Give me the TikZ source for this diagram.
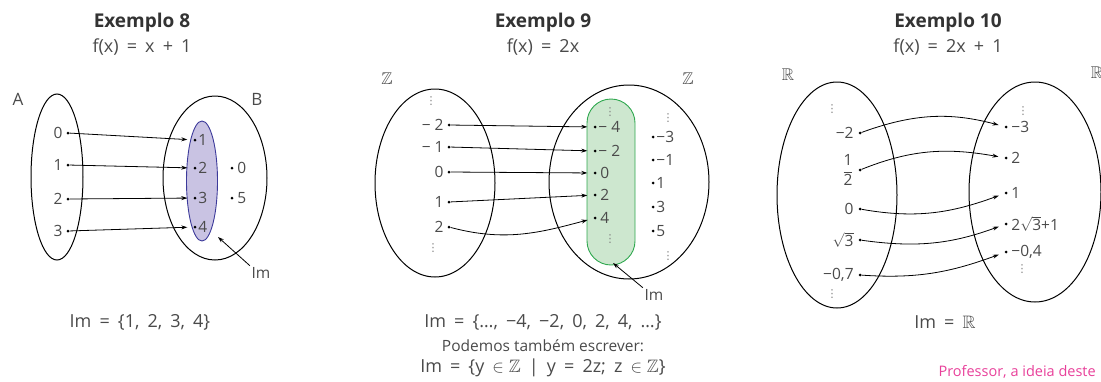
\documentclass[tikz,border=0pt]{standalone}
\usepackage{amsmath,amssymb}
\usepackage{fontspec}
\setmainfont{Open Sans}
\newfontfamily\symfont{DejaVu Sans}
\usetikzlibrary{arrows.meta,positioning}

\definecolor{txt}{HTML}{4A4A4A}
\definecolor{imfill}{HTML}{C9C3E3}
\definecolor{imline}{HTML}{3C3A9A}
\definecolor{imgfill}{HTML}{CDE7CF}
\definecolor{imgline}{HTML}{2FA84F}
\definecolor{nota}{HTML}{E8409A}

\newcommand{\vd}{{\symfont\fontsize{11}{11}\selectfont ⋮}}
\newcommand{\widesp}{\spaceskip=0.45em plus 0.1em\relax}

\tikzset{
  dot/.style={circle,fill=black,inner sep=0pt,minimum size=3pt},
  elem/.style={text=txt,font=\fontsize{15.5}{18}\selectfont,inner sep=1.5pt},
  vdts/.style={text=txt!70,inner sep=0pt},
  title/.style={text=black!80,font=\fontsize{19}{21}\selectfont\bfseries},
  formula/.style={text=txt,font=\fontsize{18}{20}\selectfont\widesp},
  plain/.style={text=txt,font=\fontsize{15.5}{18}\selectfont},
  setname/.style={text=txt,font=\fontsize{17}{19}\selectfont},
  map/.style={-{Stealth[length=6pt,width=4pt]},shorten >=6pt,line width=0.8pt},
  pointer/.style={-{Stealth[length=6pt,width=4pt]},line width=0.8pt},
  setline/.style={line width=1pt}
}

\begin{document}
\begin{tikzpicture}[x=1pt,y=-1pt]
  \useasboundingbox (0,0) rectangle (1101,381);

  % Exemplo 8
  \node[title] (t8) at (142,23) {Exemplo 8};
  \node[formula] (f8) at (142,47) {f(x) = x + 1};
  \node[setname] (nA) at (18,99) {A};
  \node[setname] (nB) at (257,99) {B};
  \draw[setline] (57,177) ellipse [x radius=26pt,y radius=83pt];
  \draw[setline] (215,178) ellipse [x radius=52pt,y radius=82pt];
  \draw[imline,fill=imfill,line width=0.9pt] (202,181) ellipse [x radius=15.5pt,y radius=60pt];
  \node[dot] (a0) at (68,133) {};
  \node[dot] (a1) at (68,165) {};
  \node[dot] (a2) at (68,199) {};
  \node[dot] (a3) at (68,231) {};
  \node[elem,left=2pt of a0] (la0) {0};
  \node[elem,left=2pt of a1] (la1) {1};
  \node[elem,left=2pt of a2] (la2) {2};
  \node[elem,left=2pt of a3] (la3) {3};
  \node[dot] (b1) at (195,140) {};
  \node[dot] (b2) at (195,168) {};
  \node[dot] (b3) at (195,198) {};
  \node[dot] (b4) at (195,227) {};
  \node[dot] (b0) at (232,168) {};
  \node[dot] (b5) at (232,198) {};
  \node[elem,right=0pt of b1] (lb1) {1};
  \node[elem,right=0pt of b2] (lb2) {2};
  \node[elem,right=0pt of b3] (lb3) {3};
  \node[elem,right=0pt of b4] (lb4) {4};
  \node[elem,right=2pt of b0] (lb0) {0};
  \node[elem,right=2pt of b5] (lb5) {5};
  \draw[map] (a0) -- (b1);
  \draw[map] (a1) -- (b2);
  \draw[map] (a2) -- (b3);
  \draw[map] (a3) -- (b4);
  \node[elem] (im8) at (261,273) {Im};
  \coordinate (im8tip) at (218,237);
  \draw[pointer] (im8.north west) -- (im8tip);
  \node[formula] (r8) at (140,322) {Im = \{1, 2, 3, 4\}};

  % Exemplo 9
  \node[title] (t9) at (543,23) {Exemplo 9};
  \node[formula] (f9) at (543,47) {f(x) = 2x};
  \node[setname] (z1) at (387,79) {$\mathbb{Z}$};
  \node[setname] (z2) at (688,79) {$\mathbb{Z}$};
  \draw[setline] (435,183) ellipse [x radius=60pt,y radius=94pt];
  \draw[setline] (629,182) ellipse [x radius=80pt,y radius=97pt];
  \draw[imgline,fill=imgfill,line width=0.9pt,rounded corners=24pt] (587,99) rectangle (635,265);
  \node[dot] (c1) at (449,125) {};
  \node[dot] (c2) at (449,147) {};
  \node[dot] (c3) at (449,172) {};
  \node[dot] (c4) at (449,202) {};
  \node[dot] (c5) at (449,227) {};
  \node[elem,left=2pt of c1] (lc1) {− 2};
  \node[elem,left=2pt of c2] (lc2) {− 1};
  \node[elem,left=2pt of c3] (lc3) {0};
  \node[elem,left=2pt of c4] (lc4) {1};
  \node[elem,left=2pt of c5] (lc5) {2};
  \node[vdts] (vc1) at (431,101) {\vd};
  \node[vdts] (vc2) at (433,248) {\vd};
  \node[dot] (d1) at (595,127) {};
  \node[dot] (d2) at (595,151) {};
  \node[dot] (d3) at (595,173) {};
  \node[dot] (d4) at (595,195) {};
  \node[dot] (d5) at (595,218) {};
  \node[elem,right=0pt of d1] (ld1) {− 4};
  \node[elem,right=0pt of d2] (ld2) {− 2};
  \node[elem,right=2pt of d3] (ld3) {0};
  \node[elem,right=2pt of d4] (ld4) {2};
  \node[elem,right=2pt of d5] (ld5) {4};
  \node[vdts] (vd1) at (610,112) {\vd};
  \node[vdts] (vd2) at (610,239) {\vd};
  \node[dot] (e1) at (653,137) {};
  \node[dot] (e2) at (653,160) {};
  \node[dot] (e3) at (653,183) {};
  \node[dot] (e4) at (653,207) {};
  \node[dot] (e5) at (653,231) {};
  \node[elem,right=0pt of e1] (le1) {−3};
  \node[elem,right=0pt of e2] (le2) {−1};
  \node[elem,right=0pt of e3] (le3) {1};
  \node[elem,right=0pt of e4] (le4) {3};
  \node[elem,right=0pt of e5] (le5) {5};
  \node[vdts] (ve1) at (668,118) {\vd};
  \node[vdts] (ve2) at (668,256) {\vd};
  \draw[map] (c1) -- (d1);
  \draw[map] (c2) -- (d2);
  \draw[map] (c3) -- (d3);
  \draw[map] (c4) -- (d4);
  \draw[map] (c5) to[out=-15,in=195] (d5);
  \node[elem] (im9) at (654,295) {Im};
  \coordinate (im9tip) at (613,263);
  \draw[pointer] (im9.north west) -- (im9tip);
  \node[formula] (r9) at (543,322) {Im = \{…, −4, −2, 0, 2, 4, …\}};
  \node[plain] (p9) at (543,346) {Podemos também escrever:};
  \node[formula] (s9) at (543,368) {Im = \{y $\in\mathbb{Z}$ | y = 2z; z $\in\mathbb{Z}$\}};

  % Exemplo 10
  \node[title] (t10) at (948,23) {Exemplo 10};
  \node[formula] (f10) at (948,47) {f(x) = 2x + 1};
  \node[setname] (r1) at (788,75) {$\mathbb{R}$};
  \node[setname] (r2) at (1097,73) {$\mathbb{R}$};
  \draw[setline] (837,195) ellipse [x radius=60pt,y radius=113pt];
  \draw[setline] (1035,192) ellipse [x radius=66pt,y radius=110pt];
  \node[dot] (g1) at (860,133) {};
  \node[dot] (g2) at (860,170) {};
  \node[dot] (g3) at (860,209) {};
  \node[dot] (g4) at (860,240) {};
  \node[dot] (g5) at (860,275) {};
  \node[elem,left=3pt of g1] (lg1) {−2};
  \node[elem,left=3pt of g2] (lg2) {$\dfrac{\mbox{1}}{\mbox{2}}$};
  \node[elem,left=3pt of g3] (lg3) {0};
  \node[elem,left=3pt of g4] (lg4) {$\sqrt{\mbox{3}}$};
  \node[elem,left=3pt of g5] (lg5) {−0,7};
  \node[vdts] (vg1) at (832,109) {\vd};
  \node[vdts] (vg2) at (832,294) {\vd};
  \node[dot] (h1) at (1006,127) {};
  \node[dot] (h2) at (1006,158) {};
  \node[dot] (h3) at (1006,193) {};
  \node[dot] (h4) at (1006,224) {};
  \node[dot] (h5) at (1006,252) {};
  \node[elem,right=2pt of h1] (lh1) {−3};
  \node[elem,right=2pt of h2] (lh2) {2};
  \node[elem,right=2pt of h3] (lh3) {1};
  \node[elem,right=2pt of h4] (lh4) {2$\sqrt{\mbox{3}}$+1};
  \node[elem,right=2pt of h5] (lh5) {−0,4};
  \node[vdts] (vh1) at (1023,111) {\vd};
  \node[vdts] (vh2) at (1022,269) {\vd};
  \draw[map] (g1) to[out=20,in=165] (h1);
  \draw[map] (g2) to[out=22,in=170] (h2);
  \draw[map] (g3) to[out=-10,in=200] (h3);
  \draw[map] (g4) to[out=-8,in=200] (h4);
  \draw[map] (g5) to[out=-4,in=200] (h5);
  \node[formula] (r10) at (945,322) {Im = $\mathbb{R}$};
  \node[nota,font=\fontsize{14.5}{17}\selectfont,anchor=west] (prof) at (935,372) {Professor, a ideia deste};
\end{tikzpicture}
\end{document}
